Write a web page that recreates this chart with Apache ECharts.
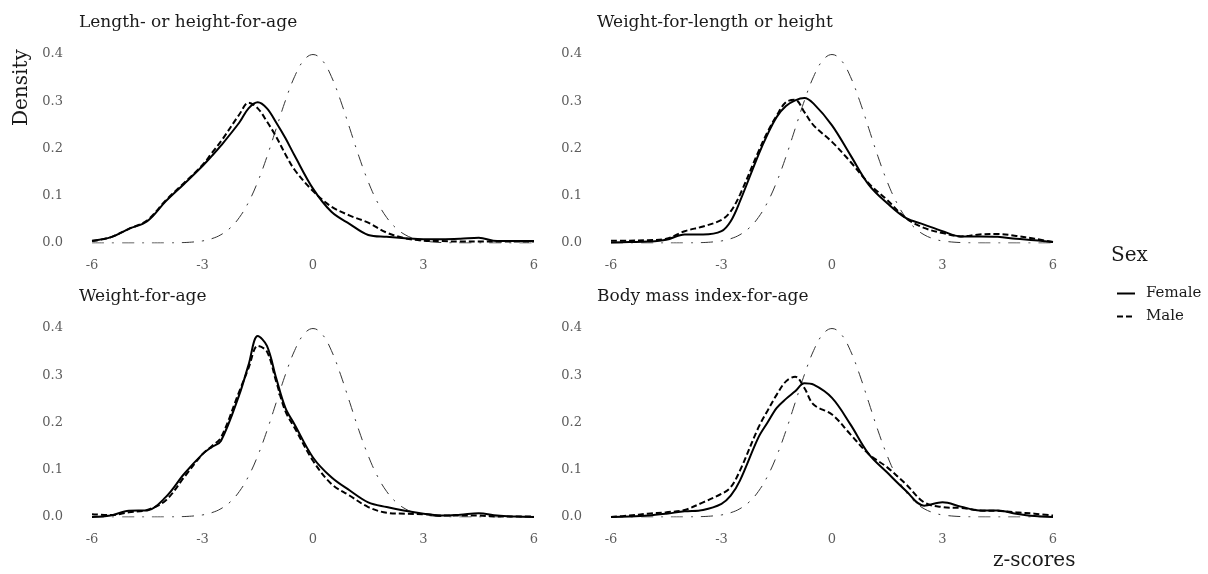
<!DOCTYPE html>
<html>
<head>
<meta charset="utf-8">
<script src="https://cdn.jsdelivr.net/npm/echarts@6/dist/echarts.min.js"></script>
<style>
    html, body { margin: 0; padding: 0; background: #fff; }
    #chart { width: 1208px; height: 574px; }
</style>
</head>
<body>
<div id="chart"></div>
<script>
    // z-score grid shared by the sex-specific density curves
    let zGrid = [-6, -5.5, -5, -4.5, -4, -3.5, -3, -2.75, -2.5, -2, -1.75, -1.5, -1.25, -1, -0.75, -0.5, 0, 0.5, 1, 1.5, 2, 2.5, 3, 3.5, 4, 4.5, 5, 5.5, 6]

    let panelTitles = ['Length- or height-for-age', 'Weight-for-length or height', 'Weight-for-age', 'Body mass index-for-age']

    // Length- or height-for-age
    let lhaFemale = [0.005, 0.012, 0.03, 0.046, 0.088, 0.125, 0.163, 0.184, 0.206, 0.255, 0.285, 0.298, 0.285, 0.255, 0.222, 0.185, 0.115, 0.066, 0.04, 0.017, 0.013, 0.01, 0.008, 0.008, 0.009, 0.011, 0.004, 0.004, 0.004]
    let lhaMale = [0.004, 0.012, 0.03, 0.048, 0.09, 0.127, 0.165, 0.19, 0.215, 0.272, 0.297, 0.285, 0.257, 0.225, 0.188, 0.155, 0.11, 0.077, 0.058, 0.043, 0.022, 0.01, 0.005, 0.004, 0.003, 0.003, 0.003, 0.003, 0.003]
    // Weight-for-length or height
    let wlhFemale = [0.001, 0.002, 0.003, 0.007, 0.018, 0.018, 0.025, 0.046, 0.088, 0.186, 0.23, 0.267, 0.29, 0.302, 0.307, 0.295, 0.249, 0.186, 0.123, 0.084, 0.053, 0.039, 0.025, 0.014, 0.014, 0.013, 0.009, 0.006, 0.002]
    let wlhMale = [0.005, 0.005, 0.006, 0.009, 0.025, 0.035, 0.049, 0.067, 0.102, 0.193, 0.235, 0.27, 0.298, 0.303, 0.277, 0.249, 0.214, 0.172, 0.126, 0.091, 0.053, 0.032, 0.021, 0.014, 0.018, 0.019, 0.015, 0.009, 0.002]
    // Weight-for-age
    let wfaFemale = [0.0, 0.003, 0.013, 0.014, 0.042, 0.091, 0.133, 0.148, 0.161, 0.259, 0.322, 0.383, 0.362, 0.294, 0.231, 0.196, 0.126, 0.084, 0.056, 0.031, 0.021, 0.013, 0.007, 0.003, 0.005, 0.008, 0.003, 0.001, 0.0]
    let wfaMale = [0.006, 0.004, 0.01, 0.015, 0.035, 0.084, 0.133, 0.15, 0.168, 0.266, 0.315, 0.362, 0.35, 0.287, 0.224, 0.189, 0.119, 0.07, 0.045, 0.021, 0.009, 0.007, 0.006, 0.003, 0.003, 0.003, 0.001, 0.001, 0.001]
    // Body mass index-for-age
    let bmiFemale = [0.0, 0.001, 0.003, 0.007, 0.012, 0.015, 0.028, 0.045, 0.077, 0.168, 0.2, 0.231, 0.25, 0.266, 0.283, 0.28, 0.252, 0.196, 0.133, 0.094, 0.056, 0.024, 0.031, 0.022, 0.014, 0.014, 0.007, 0.002, 0.0]
    let bmiMale = [0.0, 0.003, 0.007, 0.01, 0.015, 0.031, 0.049, 0.063, 0.098, 0.189, 0.225, 0.259, 0.287, 0.297, 0.273, 0.238, 0.217, 0.175, 0.133, 0.105, 0.07, 0.031, 0.021, 0.019, 0.014, 0.013, 0.01, 0.007, 0.003]

    // WHO reference curve (same in every panel)
    let refX = [-6, -5, -4, -3.5, -3, -2.75, -2.5, -2.25, -2, -1.75, -1.5, -1.25, -1, -0.75, -0.5, -0.25, 0, 0.25, 0.5, 0.75, 1, 1.25, 1.5, 1.75, 2, 2.25, 2.5, 2.75, 3, 3.5, 4, 5, 6]
    let refY = [0, 0, 0.0001, 0.0009, 0.0044, 0.0091, 0.0175, 0.0317, 0.054, 0.0863, 0.1295, 0.1826, 0.242, 0.3011, 0.3521, 0.3867, 0.3989, 0.3867, 0.3521, 0.3011, 0.242, 0.1826, 0.1295, 0.0863, 0.054, 0.0317, 0.0175, 0.0091, 0.0044, 0.0009, 0.0001, 0, 0]

    let xTicks = [-6, -3, 0, 3, 6]
    let yTicks = [0, 0.1, 0.2, 0.3, 0.4]

    let femaleData = [lhaFemale, wlhFemale, wfaFemale, bmiFemale]
    let maleData = [lhaMale, wlhMale, wfaMale, bmiMale]

    let font = 'DejaVu Serif'
    let pair = (xs, ys) => xs.map((x, i) => [x, ys[i]])

    // panel positions
    let grids = [
        {left: 92, top: 54, width: 442, height: 189},
        {left: 611, top: 54, width: 442, height: 189},
        {left: 92, top: 328, width: 442, height: 189},
        {left: 611, top: 328, width: 442, height: 189}
    ]

    let xAxes = [], yAxes = [], series = [], titles = []
    grids.forEach((g, i) => {
        xAxes.push({
            type: 'value', gridIndex: i,
            min: xTicks[0], max: xTicks[xTicks.length - 1], interval: 3,
            axisLine: {show: false}, axisTick: {show: false}, splitLine: {show: false},
            axisLabel: {color: '#5c5c5c', fontFamily: font, fontSize: 13, margin: 16}
        })
        yAxes.push({
            type: 'value', gridIndex: i,
            min: yTicks[0], max: yTicks[yTicks.length - 1], interval: 0.1,
            axisLine: {show: false}, axisTick: {show: false}, splitLine: {show: false},
            axisLabel: {color: '#5c5c5c', fontFamily: font, fontSize: 13, margin: 29,
                formatter: v => v.toFixed(1)}
        })
        titles.push({
            text: panelTitles[i],
            left: i % 2 === 0 ? 74 : 592,
            top: i < 2 ? 9 : 283,
            textStyle: {fontFamily: font, fontWeight: 'normal', fontSize: 17, color: '#1a1a1a'}
        })
        series.push({
            name: 'Reference', type: 'line', xAxisIndex: i, yAxisIndex: i,
            data: pair(refX, refY), smooth: 0.4, symbol: 'none', silent: true,
            itemStyle: {color: '#333'},
            lineStyle: {color: '#333', width: 1, type: [12, 8, 2, 8]}
        })
        series.push({
            name: 'Male', type: 'line', xAxisIndex: i, yAxisIndex: i,
            data: pair(zGrid, maleData[i]), smooth: 0.35, symbol: 'none',
            itemStyle: {color: '#000'},
            lineStyle: {color: '#000', width: 2, type: [6, 3]}
        })
        series.push({
            name: 'Female', type: 'line', xAxisIndex: i, yAxisIndex: i,
            data: pair(zGrid, femaleData[i]), smooth: 0.35, symbol: 'none',
            itemStyle: {color: '#000'},
            lineStyle: {color: '#000', width: 2}
        })
    })

    let myChart = echarts.init(document.getElementById('chart'))
    let option = {
        backgroundColor: '#fff',
        animation: false,
        color: ['#333', '#000', '#000'],
        title: titles,
        grid: grids,
        xAxis: xAxes,
        yAxis: yAxes,
        legend: {
            data: ['Female', 'Male'],
            orient: 'vertical',
            left: 1111, top: 281,
            itemWidth: 18, itemHeight: 12, itemGap: 8,
            itemStyle: {opacity: 0},
            textStyle: {fontFamily: font, fontSize: 15, color: '#1a1a1a', padding: [0, 0, 0, 6]}
        },
        graphic: [
            {
                type: 'text', x: 12, y: 126, rotation: Math.PI / 2,
                style: {text: 'Density', font: '20px "DejaVu Serif"', fill: '#1a1a1a'}
            },
            {
                type: 'text', x: 993, y: 551,
                style: {text: 'z-scores', font: '20px "DejaVu Serif"', fill: '#1a1a1a'}
            },
            {
                type: 'text', x: 1111, y: 246,
                style: {text: 'Sex', font: '20px "DejaVu Serif"', fill: '#1a1a1a'}
            }
        ],
        series: series
    }
    myChart.setOption(option)
</script>
</body>
</html>
